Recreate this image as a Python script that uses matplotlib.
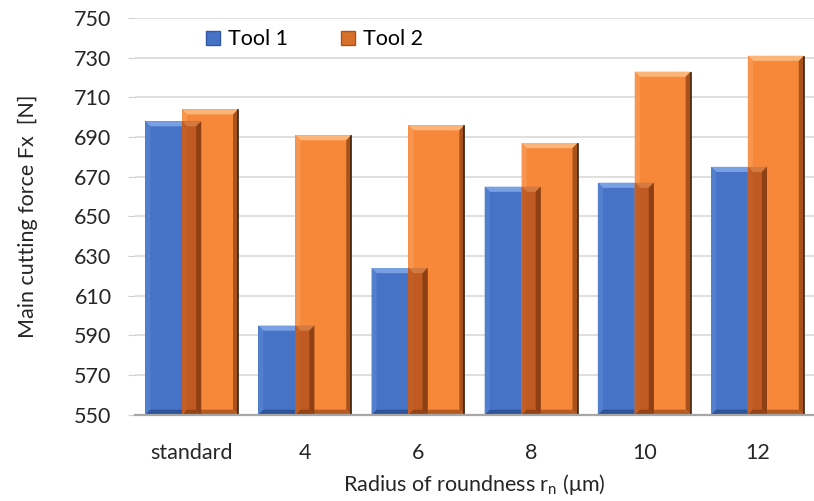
import matplotlib
matplotlib.use("Agg")
import matplotlib.pyplot as plt
from matplotlib.patches import Polygon, Rectangle
from matplotlib.lines import Line2D
import numpy as np

plt.rcParams['font.family'] = ['Lato', 'DejaVu Sans']

categories = ["standard", "4", "6", "8", "10", "12"]
tool1 = [698, 595, 624, 665, 667, 675]
tool2 = [704, 691, 696, 687, 723, 731]
series_names = ["Tool 1", "Tool 2"]

y_min, y_max, y_step = 550, 750, 20

blue = {"face": "#4673C6", "top": "#79A0E2", "left": "#5280CE", "right": "#3259A6", "bottom": "#30549A"}
orange = {"face": "#F7883A", "top": "#FBB578", "left": "#F8964F", "right": "#A9521C", "bottom": "#B45C22"}
overlap = {"face": "#C05A22", "top": "#D27A40", "left": "#C25E26", "right": "#8E4014", "bottom": "#924416"}

bar_w = 0.495
shift = 0.163
bx, by = 0.045, 2.6


def bevel_bar(ax, x0, w, base, top, c, z):
    ax.add_patch(Rectangle((x0, base), w, top - base, facecolor=c["face"], edgecolor="none", zorder=z))
    x1 = x0 + w
    faces = [
        ([(x0, top), (x1, top), (x1 - bx, top - by), (x0 + bx, top - by)], c["top"]),
        ([(x0, base), (x0, top), (x0 + bx, top - by), (x0 + bx, base + by)], c["left"]),
        ([(x1, base), (x1, top), (x1 - bx, top - by), (x1 - bx, base + by)], c["right"]),
        ([(x0, base), (x1, base), (x1 - bx, base + by), (x0 + bx, base + by)], c["bottom"]),
    ]
    for pts, col in faces:
        ax.add_patch(Polygon(pts, closed=True, facecolor=col, edgecolor="none", zorder=z + 0.1))


fig = plt.figure(figsize=(8.14, 5.01), dpi=100)
ax = fig.add_axes([0.166, 0.172, 0.834, 0.792])

x = np.arange(len(categories))
for i in x:
    b0 = i - shift - bar_w / 2
    o0 = i + shift - bar_w / 2
    bevel_bar(ax, b0, bar_w, y_min, tool1[i], blue, 2)
    bevel_bar(ax, o0, bar_w, y_min, tool2[i], orange, 3)
    # shaded part where the two bars overlap
    ov_w = (b0 + bar_w) - o0
    bevel_bar(ax, o0, ov_w, y_min, min(tool1[i], tool2[i]), overlap, 4)
    ax.plot([o0 + bar_w, o0 + bar_w], [y_min, tool2[i] - 0.5], color="#3a2410", lw=1.2, zorder=5)

ax.set_xlim(-0.5, len(categories) - 0.5)
ax.set_ylim(y_min, y_max)
ax.set_yticks(np.arange(y_min, y_max + 1, y_step))
ax.set_xticks(x)
ax.set_xticklabels(categories)

ax.grid(axis="y", color="#d9d9d9", lw=1.2, zorder=0)
ax.set_axisbelow(True)
for s in ["left", "top", "right"]:
    ax.spines[s].set_visible(False)
ax.spines["bottom"].set_color("#a6a6a6")
ax.spines["bottom"].set_linewidth(1.6)
ax.spines["bottom"].set_zorder(6)

ax.tick_params(axis="y", length=5, color="#d0d0d0", labelsize=15.5, labelcolor="#262626", pad=12)
ax.tick_params(axis="x", length=0, labelsize=15.5, labelcolor="#262626", pad=20)

ax.set_ylabel("Main cutting force Fx  [N]", fontsize=15.5, color="#262626", labelpad=26)
ax.set_xlabel("Radius of roundness r$_\\mathregular{n}$ (\u03bcm)", fontsize=15.5, color="#262626", labelpad=7)

handles = [
    Line2D([], [], marker="s", ls="none", markersize=10, markerfacecolor=blue["face"], markeredgecolor=blue["right"]),
    Line2D([], [], marker="s", ls="none", markersize=10, markerfacecolor="#D8702C", markeredgecolor=orange["right"]),
]
ax.legend(handles, series_names, loc="upper left", bbox_to_anchor=(0.07, 1.02), ncol=2, frameon=False,
          fontsize=15.5, handletextpad=0.2, columnspacing=2.3, handlelength=1.0)

fig.savefig("out.png", dpi=100)
